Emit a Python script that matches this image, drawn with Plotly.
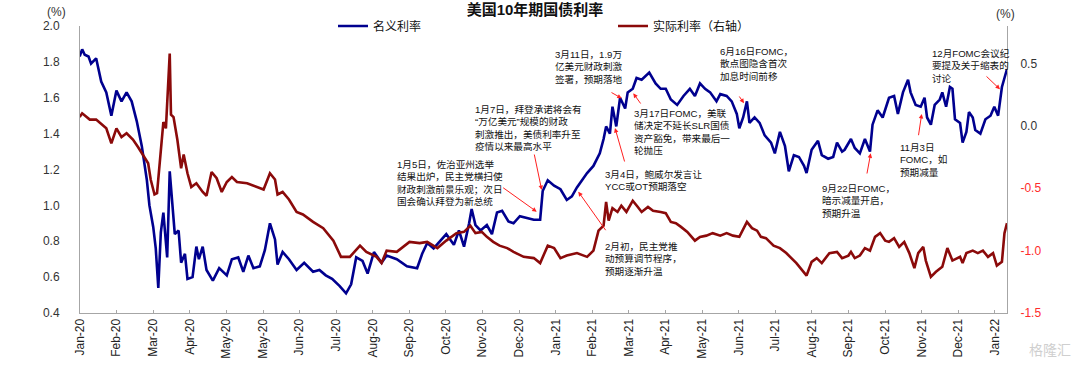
import pandas as pd
import plotly.graph_objects as go

# ---------------- data ----------------
nominal_dates = [
    "2020-01-07", "2020-01-09", "2020-01-11", "2020-01-14", "2020-01-16", "2020-01-20", "2020-01-24", "2020-01-28",
    "2020-02-01", "2020-02-05", "2020-02-09", "2020-02-13", "2020-02-17", "2020-02-21", "2020-02-25", "2020-02-29",
    "2020-03-02", "2020-03-05", "2020-03-07", "2020-03-09", "2020-03-11", "2020-03-13", "2020-03-16", "2020-03-18",
    "2020-03-22", "2020-03-25", "2020-03-27", "2020-03-30", "2020-04-01", "2020-04-05", "2020-04-08", "2020-04-10",
    "2020-04-13", "2020-04-16", "2020-04-21", "2020-04-26", "2020-05-02", "2020-05-06", "2020-05-11", "2020-05-15",
    "2020-05-19", "2020-05-23", "2020-05-28", "2020-06-01", "2020-06-05", "2020-06-09", "2020-06-11", "2020-06-15",
    "2020-06-20", "2020-06-26", "2020-07-02", "2020-07-09", "2020-07-14", "2020-07-19", "2020-07-24", "2020-07-30",
    "2020-08-04", "2020-08-08", "2020-08-12", "2020-08-17", "2020-08-21", "2020-08-26", "2020-09-01", "2020-09-05",
    "2020-09-13", "2020-09-21", "2020-09-29", "2020-10-03", "2020-10-07", "2020-10-12", "2020-10-22", "2020-10-28",
    "2020-11-01", "2020-11-05", "2020-11-09", "2020-11-11", "2020-11-14", "2020-11-18", "2020-11-23", "2020-11-27",
    "2020-12-01", "2020-12-05", "2020-12-10", "2020-12-14", "2020-12-19", "2020-12-25", "2020-12-30",
    "2021-01-04", "2021-01-06", "2021-01-10", "2021-01-15", "2021-01-20", "2021-01-25", "2021-01-29",
    "2021-02-02", "2021-02-06", "2021-02-10", "2021-02-15", "2021-02-20", "2021-02-23", "2021-02-25", "2021-02-28",
    "2021-03-02", "2021-03-05", "2021-03-08", "2021-03-12", "2021-03-14", "2021-03-18", "2021-03-21", "2021-03-25",
    "2021-03-31", "2021-04-05", "2021-04-09", "2021-04-13", "2021-04-17", "2021-04-22", "2021-04-27", "2021-05-02",
    "2021-05-06", "2021-05-10", "2021-05-14", "2021-05-18", "2021-05-23", "2021-05-26", "2021-05-31", "2021-06-04",
    "2021-06-08", "2021-06-10", "2021-06-13", "2021-06-16", "2021-06-18", "2021-06-22", "2021-06-26", "2021-06-30",
    "2021-07-05", "2021-07-08", "2021-07-12", "2021-07-16", "2021-07-19", "2021-07-23", "2021-07-27", "2021-07-31",
    "2021-08-02", "2021-08-06", "2021-08-11", "2021-08-14", "2021-08-19", "2021-08-23", "2021-08-26", "2021-08-30",
    "2021-09-01", "2021-09-06", "2021-09-09", "2021-09-13", "2021-09-17", "2021-09-21", "2021-09-23", "2021-09-27",
    "2021-10-01", "2021-10-06", "2021-10-10", "2021-10-13", "2021-10-17", "2021-10-21", "2021-10-23", "2021-10-27",
    "2021-10-31", "2021-11-03", "2021-11-05", "2021-11-08", "2021-11-11", "2021-11-15", "2021-11-17", "2021-11-20",
    "2021-11-23", "2021-11-25", "2021-11-27", "2021-12-01", "2021-12-03", "2021-12-06", "2021-12-08", "2021-12-11",
    "2021-12-13", "2021-12-17", "2021-12-21", "2021-12-25", "2021-12-28", "2021-12-31",
    "2022-01-03", "2022-01-05", "2022-01-07",
]
nominal_yield = [
    1.83, 1.87, 1.84, 1.83, 1.79, 1.82, 1.69, 1.63,
    1.50, 1.64, 1.58, 1.63, 1.58, 1.47, 1.33, 1.14,
    1.00, 0.88, 0.76, 0.54, 0.85, 0.96, 0.71, 1.19,
    0.84, 0.86, 0.68, 0.73, 0.59, 0.60, 0.77, 0.70,
    0.77, 0.64, 0.58, 0.65, 0.61, 0.70, 0.71, 0.63,
    0.72, 0.65, 0.66, 0.75, 0.90, 0.81, 0.67, 0.74,
    0.70, 0.64, 0.68, 0.63, 0.64, 0.61, 0.59, 0.55,
    0.51, 0.56, 0.71, 0.69, 0.62, 0.74, 0.68, 0.72,
    0.70, 0.66, 0.65, 0.73, 0.79, 0.76, 0.84, 0.78,
    0.86, 0.77, 0.90, 0.98, 0.89, 0.86, 0.89, 0.84,
    0.96, 0.97, 0.91, 0.90, 0.94, 0.93, 0.92,
    0.92, 1.08, 1.14, 1.11, 1.09, 1.03, 1.05,
    1.10, 1.14, 1.18, 1.22, 1.29, 1.37, 1.44, 1.40,
    1.55, 1.44, 1.60, 1.54, 1.63, 1.65, 1.71, 1.70,
    1.74, 1.68, 1.65, 1.65, 1.59, 1.56, 1.61, 1.65,
    1.61, 1.68, 1.65, 1.63, 1.58, 1.62, 1.61, 1.58,
    1.51, 1.43, 1.49, 1.58, 1.46, 1.49, 1.46, 1.39,
    1.35, 1.29, 1.41, 1.33, 1.19, 1.28, 1.27, 1.22,
    1.18, 1.31, 1.36, 1.28, 1.26, 1.27, 1.35, 1.30,
    1.31, 1.37, 1.32, 1.29, 1.37, 1.30, 1.45, 1.53,
    1.49, 1.60, 1.61, 1.51, 1.63, 1.70, 1.63, 1.56,
    1.55, 1.60, 1.49, 1.45, 1.56, 1.59, 1.63, 1.55,
    1.66, 1.65, 1.48, 1.46, 1.35, 1.41, 1.52, 1.49,
    1.42, 1.40, 1.48, 1.50, 1.55, 1.50,
    1.66, 1.71, 1.76,
]

real_dates = [
    "2020-01-07", "2020-01-09", "2020-01-15", "2020-01-20", "2020-01-28", "2020-02-01", "2020-02-05", "2020-02-09",
    "2020-02-13", "2020-02-18", "2020-02-22", "2020-02-26", "2020-03-01", "2020-03-03", "2020-03-06", "2020-03-08",
    "2020-03-11", "2020-03-13", "2020-03-15", "2020-03-18", "2020-03-19", "2020-03-21", "2020-03-24", "2020-03-27",
    "2020-03-29", "2020-04-01", "2020-04-04", "2020-04-08", "2020-04-13", "2020-04-16", "2020-04-20", "2020-04-24",
    "2020-04-28", "2020-05-02", "2020-05-06", "2020-05-10", "2020-05-18", "2020-05-26", "2020-05-31", "2020-06-05",
    "2020-06-09", "2020-06-11", "2020-06-15", "2020-06-20", "2020-06-26", "2020-07-01", "2020-07-09", "2020-07-17",
    "2020-07-25", "2020-07-31", "2020-08-07", "2020-08-15", "2020-08-20", "2020-08-28", "2020-09-01", "2020-09-05",
    "2020-09-13", "2020-09-23", "2020-10-01", "2020-10-07", "2020-10-15", "2020-10-22", "2020-10-30", "2020-11-05",
    "2020-11-10", "2020-11-14", "2020-11-19", "2020-11-23", "2020-11-28", "2020-12-03", "2020-12-09", "2020-12-14",
    "2020-12-22", "2020-12-30",
    "2021-01-04", "2021-01-10", "2021-01-15", "2021-01-20", "2021-01-25", "2021-02-02", "2021-02-10", "2021-02-15",
    "2021-02-19", "2021-02-23", "2021-02-25", "2021-02-27", "2021-03-02", "2021-03-06", "2021-03-09", "2021-03-13",
    "2021-03-18", "2021-03-22", "2021-03-25", "2021-03-30", "2021-04-03", "2021-04-09", "2021-04-13", "2021-04-17",
    "2021-04-21", "2021-04-25", "2021-04-30", "2021-05-06", "2021-05-10", "2021-05-15", "2021-05-20", "2021-05-26",
    "2021-05-31", "2021-06-05", "2021-06-10", "2021-06-16", "2021-06-20", "2021-06-24", "2021-06-27", "2021-07-01",
    "2021-07-07", "2021-07-12", "2021-07-17", "2021-07-25", "2021-07-31", "2021-08-02", "2021-08-06", "2021-08-10",
    "2021-08-14", "2021-08-20", "2021-08-26", "2021-08-30", "2021-09-04", "2021-09-06", "2021-09-09", "2021-09-13",
    "2021-09-17", "2021-09-21", "2021-09-25", "2021-09-29", "2021-10-03", "2021-10-06", "2021-10-10", "2021-10-14",
    "2021-10-18", "2021-10-22", "2021-10-26", "2021-10-29", "2021-11-02", "2021-11-04", "2021-11-08", "2021-11-12",
    "2021-11-17", "2021-11-21", "2021-11-25", "2021-12-01", "2021-12-03", "2021-12-06", "2021-12-11", "2021-12-15",
    "2021-12-19", "2021-12-23", "2021-12-27", "2021-12-30",
    "2022-01-03", "2022-01-05", "2022-01-07",
]
real_yield = [
    0.07, 0.10, 0.05, 0.05, -0.02, -0.14, -0.02, -0.09,
    -0.06, -0.11, -0.17, -0.23, -0.30, -0.43, -0.55, -0.54,
    -0.19, 0.03, -0.02, 0.58, 0.09, 0.07, -0.11, -0.34,
    -0.23, -0.38, -0.49, -0.46, -0.53, -0.56, -0.37, -0.42,
    -0.53, -0.45, -0.41, -0.45, -0.46, -0.49, -0.51, -0.38,
    -0.43, -0.55, -0.53, -0.59, -0.69, -0.71, -0.77, -0.82,
    -0.92, -1.05, -1.05, -0.96, -1.01, -1.05, -1.10, -1.00,
    -1.01, -0.93, -0.94, -0.93, -0.98, -0.92, -0.86, -0.85,
    -0.80, -0.86, -0.85, -0.89, -0.93, -0.96, -0.98, -1.01,
    -1.05, -1.06,
    -1.10, -0.96, -0.98, -1.06, -1.04, -1.02, -1.05, -1.00,
    -0.84, -0.80, -0.61, -0.76, -0.66, -0.69, -0.64, -0.69,
    -0.60, -0.65, -0.69, -0.65, -0.68, -0.69, -0.70, -0.77,
    -0.78, -0.81, -0.85, -0.92, -0.89, -0.88, -0.86, -0.88,
    -0.86, -0.88, -0.89, -0.77, -0.82, -0.84, -0.89, -0.90,
    -0.96, -0.98, -1.02, -1.10, -1.17, -1.20, -1.09, -1.06,
    -1.10, -1.02, -1.01, -1.06, -1.04, -1.01, -1.06, -1.04,
    -0.98, -1.00, -0.89, -0.86, -0.92, -0.93, -0.90, -0.97,
    -0.93, -1.02, -1.14, -1.02, -0.97, -1.08, -1.21, -1.17,
    -1.13, -0.98, -1.08, -1.05, -1.10, -1.02, -1.00, -1.02,
    -1.00, -1.05, -1.02, -1.12,
    -1.09, -0.86, -0.78,
]

tick_labels = ["Jan-20", "Feb-20", "Mar-20", "Apr-20", "May-20", "May-20", "Jun-20", "Jul-20",
               "Aug-20", "Sep-20", "Oct-20", "Nov-20", "Dec-20", "Jan-21", "Feb-21", "Mar-21",
               "Apr-21", "May-21", "Jun-21", "Jul-21", "Aug-21", "Sep-21", "Oct-21", "Nov-21",
               "Dec-21", "Jan-22"]
left_ticks = [0.4, 0.6, 0.8, 1.0, 1.2, 1.4, 1.6, 1.8, 2.0]
right_ticks = [-1.5, -1.0, -0.5, 0.0, 0.5]

series_names = ["名义利率", "实际利率（右轴）"]
title_text = "美国10年期国债利率"

# event notes: (text, text_left_px, text_top_px, arrow_head_px, arrow_tail_px)
events = [
    ("1月5日，佐治亚州选举<br>结果出炉，民主党横扫使<br>财政刺激前景乐观；次日<br>国会确认拜登为新总统",
     395, 157, (536.7, 211.7), (501.7, 186.7)),
    ("1月7日，拜登承诺将会有<br>“万亿美元”规模的财政<br>刺激推出，美债利率升至<br>疫情以来最高水平",
     473, 102, (541.7, 190), (534, 153)),
    ("3月11日，1.9万<br>亿美元财政刺激<br>签署，预期落地",
     553, 47, (621.7, 98.3), (610, 91.7)),
    ("3月17日FOMC，美联<br>储决定不延长SLR国债<br>资产豁免，带来最后一<br>轮抛压",
     631.7, 106, (633.3, 93.3), (641.7, 105)),
    ("3月4日，鲍威尔发言让<br>YCC或OT预期落空",
     602.7, 167, (615, 128), (625, 163)),
    ("2月初，民主党推<br>动预算调节程序，<br>预期逐渐升温",
     602.7, 239, (578.3, 191.7), (606.7, 231.7)),
    ("6月16日FOMC，<br>散点图隐含首次<br>加息时间前移",
     718.3, 44, (744, 103.3), (738.3, 95)),
    ("9月22日FOMC，<br>暗示减量开启，<br>预期升温",
     820, 181, (870.7, 153.3), (866.7, 175)),
    ("11月3日<br>FOMC，如<br>预期减量",
     898.3, 140, (921.7, 114), (918.3, 136.7)),
    ("12月FOMC会议纪<br>要提及关于缩表的<br>讨论",
     930, 46, (1000, 89.3), (985, 75)),
]

# ---------------- layout geometry ----------------
W, H = 1080, 367
L, R, T, B = 80, 1007, 26, 313

def px_x(p):
    return (p - L) / (R - L)

def px_y(p):
    return (B - p) / (B - T)

FONT = "Liberation Sans, Arial, Noto Sans CJK SC, sans-serif"
BLUE = "#00008F"
RED = "#8B0A0A"
AXIS = "#A6A6A6"

base = pd.Timestamp("2020-01-02")
x_start = base + pd.Timedelta(days=5.28)
x_end = base + pd.Timedelta(days=736.0)
tick_dates = [(base + pd.Timedelta(days=5.28 + 28.85 * k)).strftime("%Y-%m-%d %H:%M:%S")
              for k in range(len(tick_labels))]

fig = go.Figure()
fig.add_trace(go.Scatter(
    x=pd.to_datetime(nominal_dates), y=nominal_yield, name=series_names[0],
    mode="lines", line=dict(color=BLUE, width=2.6), yaxis="y", legend="legend",
))
fig.add_trace(go.Scatter(
    x=pd.to_datetime(real_dates), y=real_yield, name=series_names[1],
    mode="lines", line=dict(color=RED, width=2.6), yaxis="y2", legend="legend2",
))

right_text = []
for v in right_ticks:
    s = f"{v:.1f}"
    if v < 0:
        right_text.append(f"<span style='color:#FF2B2B'>{s}</span>")
    else:
        right_text.append(s)

annotations = []
for text, lx, ty, head, tail in events:
    annotations.append(dict(
        text=text, xref="paper", yref="paper", x=px_x(lx), y=px_y(ty),
        xanchor="left", yanchor="top", align="left", showarrow=False,
        font=dict(family=FONT, size=9.6, color="#111111"),
    ))
    annotations.append(dict(
        text="", xref="paper", yref="paper", x=px_x(head[0]), y=px_y(head[1]),
        ax=tail[0] - head[0], ay=tail[1] - head[1], axref="pixel", ayref="pixel",
        showarrow=True, arrowhead=2, arrowsize=0.9, arrowwidth=1, arrowcolor="#FF2020",
        standoff=0, startstandoff=0,
    ))

annotations += [
    dict(text="(%)", xref="paper", yref="paper", x=px_x(56), y=px_y(12),
         xanchor="center", yanchor="middle", showarrow=False,
         font=dict(family=FONT, size=12, color="#333333")),
    dict(text="(%)", xref="paper", yref="paper", x=px_x(1005), y=px_y(14),
         xanchor="center", yanchor="middle", showarrow=False,
         font=dict(family=FONT, size=12, color="#333333")),
    dict(text="格隆汇", xref="paper", yref="paper", x=px_x(1050), y=px_y(350),
         xanchor="center", yanchor="middle", showarrow=False,
         font=dict(family=FONT, size=14, color="#CFCFCF")),
]

fig.update_layout(
    width=W, height=H,
    margin=dict(l=L, r=W - R, t=T, b=H - B, pad=0, autoexpand=False),
    paper_bgcolor="white", plot_bgcolor="white",
    font=dict(family=FONT, size=12, color="#222222"),
    title=dict(text=title_text, x=535 / W, xanchor="center", xref="container",
               y=1 - 10 / H, yanchor="middle", yref="container",
               font=dict(family=FONT, size=15, color="#111111", weight="bold")),
    showlegend=True,
    legend=dict(x=px_x(333), y=px_y(26), xanchor="left", yanchor="middle",
                orientation="h", bgcolor="rgba(0,0,0,0)", borderwidth=0,
                font=dict(family=FONT, size=12, color="#111111")),
    legend2=dict(x=px_x(613), y=px_y(26), xanchor="left", yanchor="middle",
                 orientation="h", bgcolor="rgba(0,0,0,0)", borderwidth=0,
                 font=dict(family=FONT, size=12, color="#111111")),
    xaxis=dict(
        type="date", range=[x_start, x_end], showgrid=False, zeroline=False,
        showline=True, linecolor=AXIS, linewidth=1, automargin=False,
        ticks="inside", ticklen=3, tickcolor=AXIS, tickwidth=1,
        tickvals=tick_dates, ticktext=tick_labels, tickangle=-90,
        tickfont=dict(family=FONT, size=12, color="#222222"),
    ),
    yaxis=dict(
        range=[0.4, 2.0], showgrid=False, zeroline=False, automargin=False,
        showline=True, linecolor=AXIS, linewidth=1, ticks="",
        tickvals=left_ticks, ticktext=[f"{v:.1f}" for v in left_ticks],
        tickfont=dict(family=FONT, size=12, color="#333333"), ticklabelstandoff=17,
    ),
    yaxis2=dict(
        range=[-1.5, 0.8], overlaying="y", side="right", anchor="x", automargin=False,
        showgrid=False, zeroline=False,
        showline=True, linecolor=AXIS, linewidth=1, ticks="",
        tickvals=right_ticks, ticktext=right_text,
        tickfont=dict(family=FONT, size=12, color="#333333"), ticklabelstandoff=10,
    ),
    annotations=annotations,
)

# remove the browser's default 8px page margin so the chart sits at the window origin
fig.write_html("out.html", config={"displayModeBar": False},
               post_script="document.body.style.margin='0';")
